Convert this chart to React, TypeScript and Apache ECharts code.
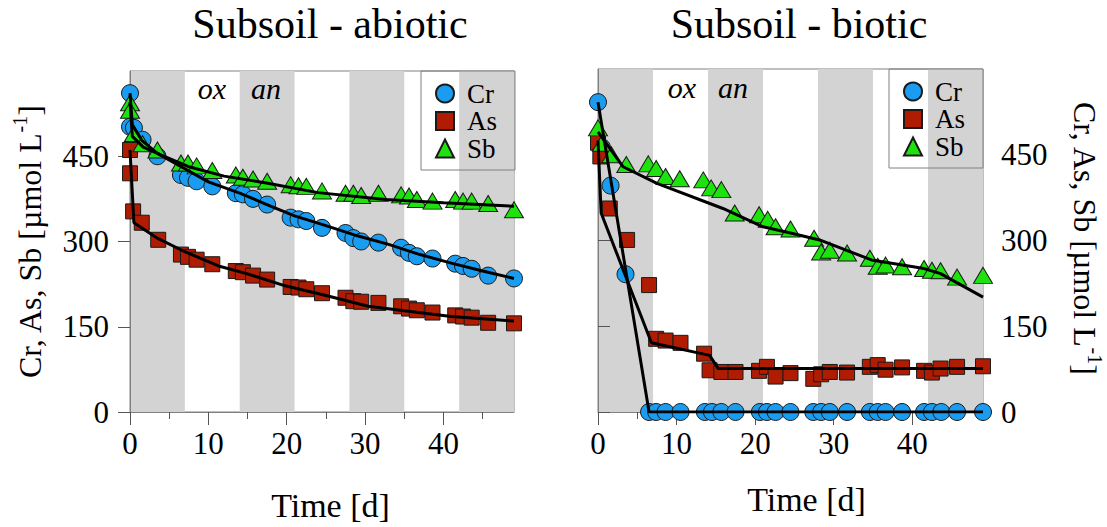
import React, { useEffect, useRef } from 'react';
import * as echarts from 'echarts';

const FONT = "'Liberation Serif', 'Times New Roman', serif";

// ---------- Subsoil - abiotic ----------
const abCrT = [0, 0, 0.5, 1.6, 3.5, 6.5, 7.4, 8.5, 10.5, 13.5, 14.4, 15.7, 17.5, 20.5, 21.5, 22.5, 24.5, 27.5, 28.5, 29.5, 31.7, 34.6, 35.6, 36.6, 38.6, 41.5, 42.5, 43.6, 45.7, 49];
const abCrV = [561, 502, 500, 479, 450, 417, 412, 406, 397, 385, 383, 375, 365, 342, 339, 336, 324, 315, 306, 300, 298, 289, 280, 274, 270, 261, 257, 252, 240, 235];
const abAsT = [0, 0, 0.4, 1.5, 3.6, 6.5, 7.4, 8.5, 10.5, 13.5, 14.4, 15.7, 17.5, 20.5, 21.5, 22.5, 24.5, 27.5, 28.5, 29.5, 31.7, 34.6, 35.6, 36.6, 38.6, 41.5, 42.5, 43.6, 45.7, 49];
const abAsV = [461, 420, 353, 333, 303, 277, 273, 268, 260, 248, 246, 240, 233, 220, 219, 216, 209, 201, 195, 194, 192, 186, 182, 179, 175, 170, 168, 166, 157, 156];
const abSbT = [0, 0, 0.5, 1.6, 3.5, 6.5, 7.4, 8.5, 10.5, 13.5, 14.4, 15.7, 17.5, 20.5, 21.5, 22.5, 24.5, 27.5, 28.5, 29.5, 31.7, 34.6, 35.6, 36.6, 38.6, 41.5, 42.5, 43.6, 45.7, 49];
const abSbV = [544, 531, 490, 472, 461, 438, 438, 433, 425, 417, 413, 410, 406, 400, 398, 397, 389, 385, 385, 381, 385, 382, 380, 374, 371, 374, 371, 371, 367, 356];

const abCrFitT = [0, 0.3, 1.5, 3.5, 7, 10, 14, 18, 21, 25, 29, 33, 37, 41, 45, 49];
const abCrFitV = [561, 505, 478, 455, 428, 405, 385, 362, 345, 328, 310, 295, 277, 262, 248, 235];
const abAsFitT = [0, 0.5, 3.6, 7, 11.3, 15, 19.8, 25, 30.4, 35, 41, 49];
const abAsFitV = [461, 333, 305, 282, 257, 243, 222, 205, 186, 178, 168, 160];
const abSbFitT = [0, 0.3, 1.7, 4, 7.4, 12, 17.4, 24, 32.6, 40, 49];
const abSbFitV = [545, 485, 466, 452, 432, 415, 403, 386, 374, 368, 362];

// ---------- Subsoil - biotic ----------
const biCrT = [0, 0.5, 1.6, 3.5, 6.5, 7.4, 8.6, 10.5, 13.6, 14.5, 15.7, 17.5, 20.6, 21.5, 22.6, 24.5, 27.4, 28.4, 29.5, 31.7, 34.6, 35.6, 36.6, 38.7, 41.5, 42.5, 43.7, 45.7, 49];
const biCrV = [542, 463, 396, 241, 0, 0, 0, 0, 0, 0, 0, 0, 0, 0, 0, 0, 0, 0, 0, 0, 0, 0, 0, 0, 0, 0, 0, 0, 0];
const biAsT = [0, 0.3, 1.5, 3.7, 6.5, 7.4, 8.6, 10.5, 13.5, 14.2, 15.7, 17.5, 20.5, 21.5, 22.6, 24.5, 27.4, 28.4, 29.5, 31.7, 34.6, 35.6, 36.6, 38.7, 41.5, 42.5, 43.6, 45.7, 49];
const biAsV = [471, 447, 356, 301, 222, 128, 125, 121, 102, 73, 70, 70, 72, 79, 62, 68, 58, 66, 70, 69, 79, 82, 74, 78, 72, 69, 76, 79, 80];
const biSbT = [0, 0.5, 1.7, 3.6, 6.4, 7.4, 8.6, 10.4, 13.4, 14.4, 15.7, 17.4, 20.5, 21.6, 22.6, 24.5, 27.5, 28.4, 29.5, 31.7, 34.6, 35.6, 36.6, 38.7, 41.5, 42.5, 43.6, 45.7, 49];
const biSbV = [497, 470, 450, 433, 434, 426, 412, 408, 406, 392, 389, 348, 345, 337, 324, 320, 304, 280, 283, 278, 269, 255, 257, 254, 251, 248, 247, 236, 239];

const biCrFitT = [0, 6.5, 49];
const biCrFitV = [542, 0, 0];
const biAsFitT = [0, 0.4, 6.8, 14.2, 15.3, 49];
const biAsFitV = [475, 348, 121, 99, 76, 76];
const biSbFitT = [0, 3.2, 7.5, 15.9, 21, 24.5, 28.2, 34.8, 41.5, 43.6, 49];
const biSbFitV = [490, 429, 400, 356, 324, 313, 301, 266, 251, 242, 201];

// shaded incubation phases [start, end] in days
const bands = [[0, 7], [14, 21], [28, 35], [42, 49]];
const xMajor = [0, 10, 20, 30, 40];
const xMinor = [5, 15, 25, 35, 45];
const yTicks = [0, 150, 300, 450];
const names = ['Cr', 'As', 'Sb'];
const titles = ['Subsoil - abiotic', 'Subsoil - biotic'];

const COLORS = { Cr: '#1a9cf0', As: '#b01c02', Sb: '#1ee20e' };
const SYMBOLS: any = { Cr: 'circle', As: 'rect', Sb: 'triangle' };
const SIZES: any = { Cr: 17, As: 15, Sb: [19, 16] };

const zip = (t: number[], v: number[]) => t.map((x, i) => [x, v[i]]);

function panelSeries(idx: number, pts: any, fits: any) {
  const xi = idx * 2;
  const yi = idx;
  const out: any[] = [];
  out.push({
    type: 'line',
    name: 'bands' + idx,
    xAxisIndex: xi,
    yAxisIndex: yi,
    data: [],
    z: 0,
    silent: true,
    markArea: {
      silent: true,
      itemStyle: { color: '#d3d3d3' },
      data: bands.map(([a, b]) => [{ xAxis: a }, { xAxis: b }]),
    },
  });
  for (const n of names) {
    out.push({
      type: 'scatter',
      name: n,
      xAxisIndex: xi,
      yAxisIndex: yi,
      data: pts[n],
      symbol: SYMBOLS[n],
      symbolSize: SIZES[n],
      itemStyle: { color: (COLORS as any)[n], borderColor: '#1a1a1a', borderWidth: 1, opacity: 1 },
      z: 2,
      clip: false,
    });
  }
  for (const n of names) {
    out.push({
      type: 'line',
      name: n + ' fit',
      xAxisIndex: xi,
      yAxisIndex: yi,
      data: fits[n],
      showSymbol: false,
      symbol: 'none',
      lineStyle: { color: '#000', width: 3 },
      z: 3,
      silent: true,
    });
  }
  return out;
}

function xAxes(grid: number, gapName: number, shift: number) {
  return [
    {
      type: 'value',
      gridIndex: grid,
      position: 'bottom',
      min: 0,
      max: 49,
      interval: 10,
      z: 1,
      axisLine: { show: true, lineStyle: { color: '#808080', width: 1 } },
      axisTick: { show: true, customValues: xMajor, length: 13, lineStyle: { color: '#555' } },
      axisLabel: { customValues: xMajor, margin: 16, fontSize: 31, fontFamily: FONT, fontWeight: 'normal', color: '#000' },
      splitLine: { show: false },
      name: 'Time [d]',
      nameLocation: 'middle',
      nameGap: gapName,
      nameTextStyle: { fontSize: 34, fontFamily: FONT, fontWeight: 'normal', color: '#000', padding: [0, 0, 0, shift] },
    },
    {
      type: 'value',
      gridIndex: grid,
      position: 'bottom',
      min: 0,
      max: 49,
      interval: 5,
      z: 1,
      axisLine: { show: false },
      axisTick: { show: true, customValues: xMinor, length: 7, lineStyle: { color: '#555' } },
      axisLabel: { show: false },
      splitLine: { show: false },
    },
  ];
}

function yAxis(grid: number, pos: string, margin: number) {
  return {
    type: 'value',
    gridIndex: grid,
    position: pos,
    min: 0,
    max: 600,
    interval: 150,
    z: 1,
    axisLine: { show: true, lineStyle: { color: '#808080', width: 1 } },
    axisTick: { show: true, customValues: yTicks, length: 12, lineStyle: { color: '#555' } },
    axisLabel: { customValues: yTicks, margin, fontSize: 31, fontFamily: FONT, fontWeight: 'normal', color: '#000' },
    splitLine: { show: false },
  };
}

function legend(left: number, top: number) {
  return {
    orient: 'vertical',
    left,
    top,
    data: names,
    padding: [9, 18, 8, 14],
    itemGap: 0.5,
    itemWidth: 18,
    itemHeight: 18,
    borderColor: '#808080',
    borderWidth: 1,
    backgroundColor: 'transparent',
    selectedMode: false,
    textStyle: { fontSize: 27, lineHeight: 27, fontFamily: FONT, color: '#000', padding: [0, 0, 0, 8] },
  };
}

const yTitleRich = {
  a: { fontSize: 32, fontFamily: FONT, color: '#000', lineHeight: 40 },
  s: { fontSize: 20, fontFamily: FONT, color: '#000', verticalAlign: 'top', lineHeight: 20 },
};

const phaseText = (x: number, y: number, text: string) => ({
  type: 'text',
  x,
  y,
  z: 100,
  style: { text, font: "italic normal 30px 'Liberation Serif', serif", fill: '#000', align: 'center', verticalAlign: 'middle' },
});

export default function App() {
  const ref = useRef<HTMLDivElement>(null);
  useEffect(() => {
    if (!ref.current) return;
    const chart = echarts.init(ref.current, undefined, { renderer: 'svg' });
    const abPts = { Cr: zip(abCrT, abCrV), As: zip(abAsT, abAsV), Sb: zip(abSbT, abSbV) };
    const abFits = { Cr: zip(abCrFitT, abCrFitV), As: zip(abAsFitT, abAsFitV), Sb: zip(abSbFitT, abSbFitV) };
    const biPts = { Cr: zip(biCrT, biCrV), As: zip(biAsT, biAsV), Sb: zip(biSbT, biSbV) };
    const biFits = { Cr: zip(biCrFitT, biCrFitV), As: zip(biAsFitT, biAsFitV), Sb: zip(biSbFitT, biSbFitV) };

    chart.setOption({
      animation: false,
      backgroundColor: '#fff',
      title: [
        { text: titles[0], left: 330, top: 3, textAlign: 'center', padding: 0, textStyle: { fontSize: 42, fontWeight: 'normal', fontFamily: FONT, color: '#000' } },
        { text: titles[1], left: 799, top: 3, textAlign: 'center', padding: 0, textStyle: { fontSize: 42, fontWeight: 'normal', fontFamily: FONT, color: '#000' } },
      ],
      grid: [
        { left: 130, top: 71, width: 384, height: 342, show: true, borderColor: '#808080', borderWidth: 1, backgroundColor: 'transparent', z: 1 },
        { left: 598, top: 69, width: 385, height: 343, show: true, borderColor: '#808080', borderWidth: 1, backgroundColor: 'transparent', z: 1 },
      ],
      xAxis: [...xAxes(0, 76, 17), ...xAxes(1, 70, 32)],
      yAxis: [yAxis(0, 'left', 21), yAxis(1, 'right', 18)],
      legend: [legend(421, 71), legend(889, 69)],
      graphic: [
        phaseText(212, 88, 'ox'),
        phaseText(266, 88, 'an'),
        phaseText(682, 87, 'ox'),
        phaseText(733, 87, 'an'),
        { type: 'text', x: 30, y: 242, z: 100, rotation: Math.PI / 2, style: { text: '{a|Cr, As, Sb [µmol L}{s|-1}{a|]}', rich: yTitleRich, align: 'center', verticalAlign: 'middle' } },
        { type: 'text', x: 1085, y: 238, z: 100, rotation: -Math.PI / 2, style: { text: '{a|Cr, As, Sb [µmol L}{s|-1}{a|]}', rich: yTitleRich, align: 'center', verticalAlign: 'middle' } },
      ],
      series: [...panelSeries(0, abPts, abFits), ...panelSeries(1, biPts, biFits)],
    });
    return () => chart.dispose();
  }, []);
  return <div ref={ref} style={{ position: 'absolute', left: 0, top: 0, width: 1107, height: 527 }} />;
}
